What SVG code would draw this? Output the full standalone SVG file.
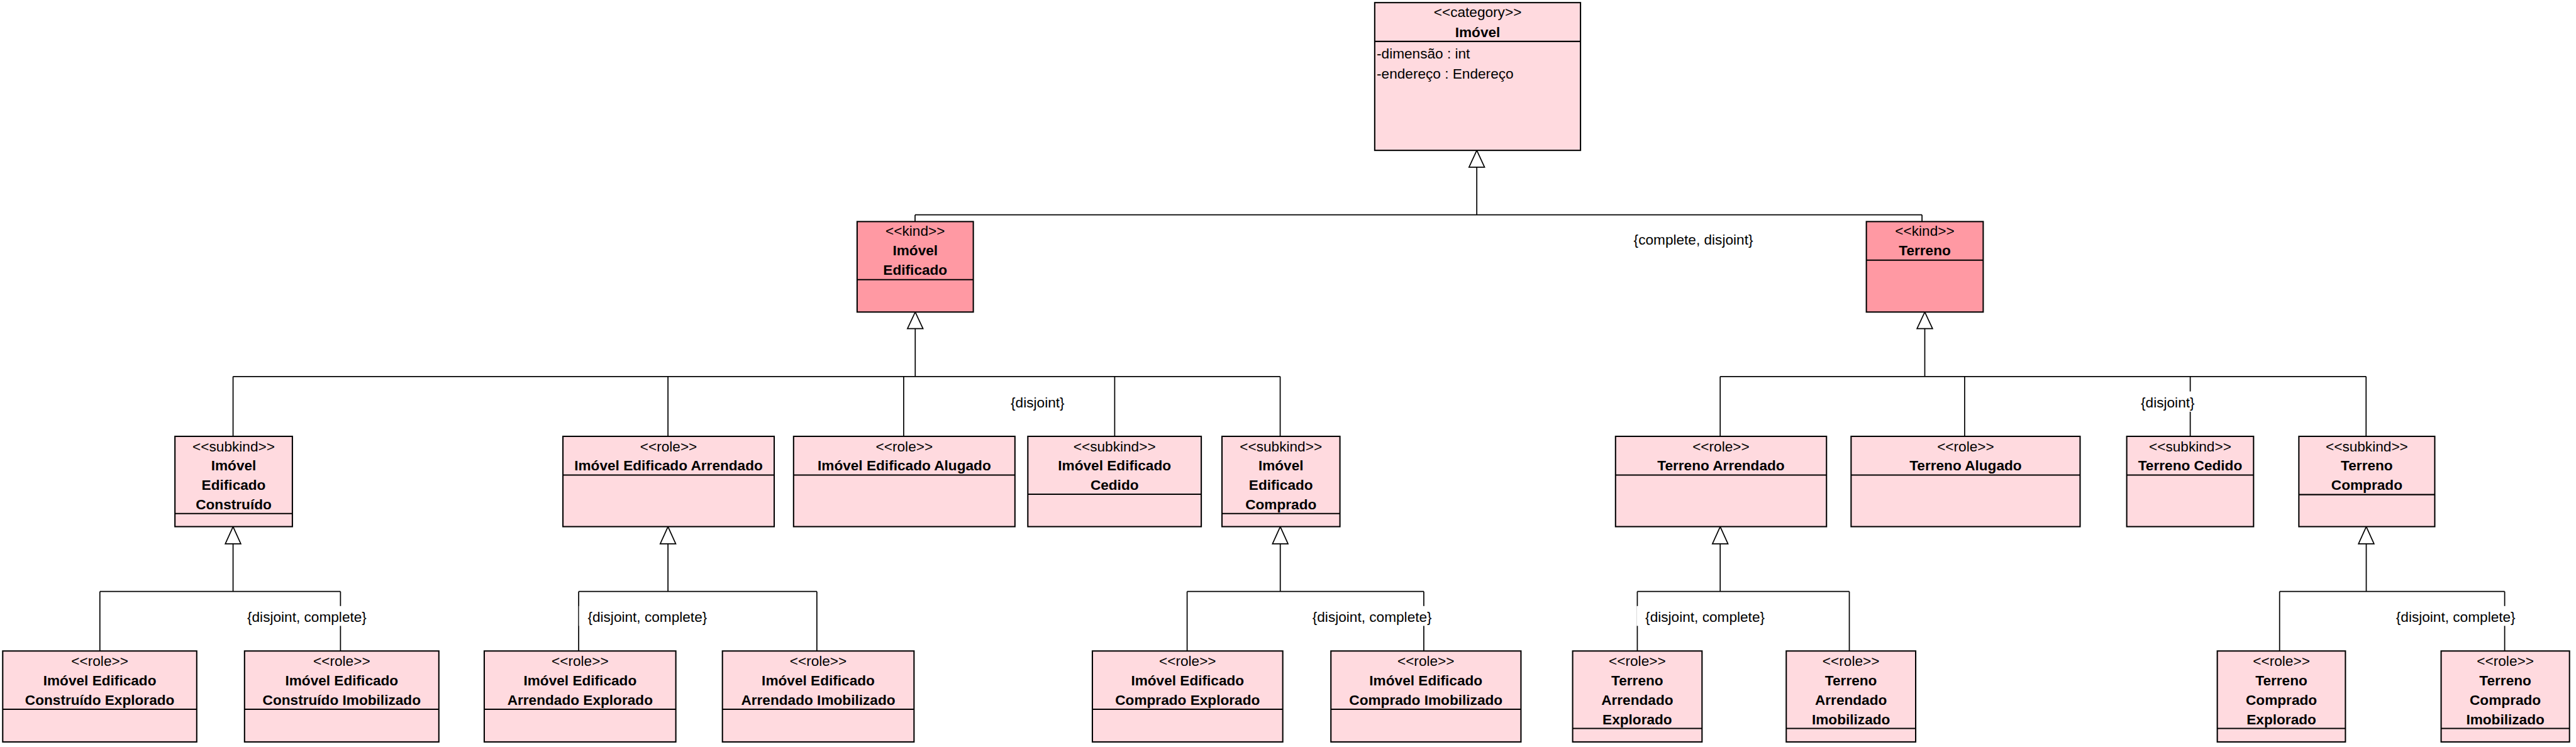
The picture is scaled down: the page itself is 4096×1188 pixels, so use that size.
<svg xmlns="http://www.w3.org/2000/svg" width="4096" height="1188" viewBox="0 0 4096 1188">
<style>
.bx{fill:#FFDADF;stroke:#000;stroke-width:3}
.kd{fill:#FF99A3;stroke:#000;stroke-width:3}
.dv{stroke:#000;stroke-width:3}
.t{font-family:"Liberation Sans",Arial,Helvetica,sans-serif;font-size:33px;text-anchor:middle;fill:#000}
.b{font-weight:bold}
.a{text-anchor:start}
.cn{stroke:#000;stroke-width:2.5;fill:none}
.tr{fill:#fff;stroke:#000;stroke-width:2.5}
.bg{fill:#fff}
</style>
<rect width="4096" height="1188" fill="#fff"/>
<g transform="scale(0.686)">
<g id="connectors">
<path class="cn" d="M3423,387.6V498M2121,498H4455M2121,498V513.7M4455,498V513.7"/>
<polygon class="tr" points="3423,348.6 3405,387.6 3441,387.6"/>
<path class="cn" d="M2121.4,762V872.9M540.2,872.9H2967.3M540.2,872.9V1011.6M1548.3,872.9V1011.6M2094.6,872.9V1011.6M2583.7,872.9V1011.6M2967.3,872.9V1011.6"/>
<polygon class="tr" points="2121.4,723.4 2103.4,762 2139.4,762"/>
<path class="cn" d="M4461.4,762V872.9M3987.2,872.9H5484.3M3987.2,872.9V1011.6M4553.8,872.9V1011.6M5076.7,872.9V1011.6M5484.3,872.9V1011.6"/>
<polygon class="tr" points="4461.4,723.4 4443.4,762 4479.4,762"/>
<path class="cn" d="M540.2,1260.7V1371.3M231.5,1371.3H789.2M231.5,1371.3V1509.2M789.2,1371.3V1509.2"/>
<polygon class="tr" points="540.2,1220.9 522.2,1260.7 558.2,1260.7"/>
<path class="cn" d="M1548.3,1260.7V1371.3M1341.3,1371.3H1893.4M1341.3,1371.3V1509.2M1893.4,1371.3V1509.2"/>
<polygon class="tr" points="1548.3,1220.9 1530.3,1260.7 1566.3,1260.7"/>
<path class="cn" d="M2967.5,1260.7V1371.3M2751.6,1371.3H3300.2M2751.6,1371.3V1509.2M3300.2,1371.3V1509.2"/>
<polygon class="tr" points="2967.5,1220.9 2949.5,1260.7 2985.5,1260.7"/>
<path class="cn" d="M3987.2,1260.7V1371.3M3795.1,1371.3H4286.5M3795.1,1371.3V1509.2M4286.5,1371.3V1509.2"/>
<polygon class="tr" points="3987.2,1220.9 3969.2,1260.7 4005.2,1260.7"/>
<path class="cn" d="M5484.7,1260.7V1371.3M5283.8,1371.3H5805.5M5283.8,1371.3V1509.2M5805.5,1371.3V1509.2"/>
<polygon class="tr" points="5484.7,1220.9 5466.7,1260.7 5502.7,1260.7"/>
</g>
<g id="labels">
<text class="t" x="3925" y="567">{complete, disjoint}</text>
<text class="t" x="2405" y="945">{disjoint}</text>
<rect class="bg" x="4942" y="907.5" width="165" height="47"/>
<text class="t" x="5024.5" y="944.3">{disjoint}</text>
<rect class="bg" x="552.8" y="1405" width="317" height="46"/>
<text class="t" x="711.3" y="1442">{disjoint, complete}</text>
<rect class="bg" x="1342" y="1405" width="317" height="46"/>
<text class="t" x="1500.5" y="1442">{disjoint, complete}</text>
<rect class="bg" x="3021.8" y="1405" width="317" height="46"/>
<text class="t" x="3180.3" y="1442">{disjoint, complete}</text>
<rect class="bg" x="3793.5" y="1405" width="317" height="46"/>
<text class="t" x="3952" y="1442">{disjoint, complete}</text>
<rect class="bg" x="5533.5" y="1405" width="317" height="46"/>
<text class="t" x="5692" y="1442">{disjoint, complete}</text>
</g>
<g id="imovel">
<rect class="bx" x="3186.4" y="6.1" width="477" height="342.5"/>
<line class="dv" x1="3186.4" y1="96" x2="3663.4" y2="96"/>
<text class="t" x="3425" y="39.5">&lt;&lt;category&gt;&gt;</text>
<text class="t b" x="3425" y="86">Imóvel</text>
<text class="t a" x="3191" y="136">-dimensão : int</text>
<text class="t a" x="3191" y="181.5">-endereço : Endereço</text>
</g>
<g id="imovel_edificado">
<rect class="kd" x="1986.7" y="513.7" width="269.3" height="209.7"/>
<line class="dv" x1="1986.7" y1="648.4" x2="2256" y2="648.4"/>
<text class="t" x="2121.4" y="546.5">&lt;&lt;kind&gt;&gt;</text>
<text class="t b" x="2121.4" y="592.5">Imóvel</text>
<text class="t b" x="2121.4" y="637.5">Edificado</text>
</g>
<g id="terreno">
<rect class="kd" x="4326" y="513.7" width="270.8" height="209.7"/>
<line class="dv" x1="4326" y1="603" x2="4596.8" y2="603"/>
<text class="t" x="4461.4" y="546.5">&lt;&lt;kind&gt;&gt;</text>
<text class="t b" x="4461.4" y="592">Terreno</text>
</g>
<g id="imovel_edificado_construido">
<rect class="bx" x="405.5" y="1011.6" width="272.2" height="209.3"/>
<line class="dv" x1="405.5" y1="1190.7" x2="677.7" y2="1190.7"/>
<text class="t" x="541.6" y="1046">&lt;&lt;subkind&gt;&gt;</text>
<text class="t b" x="541.6" y="1091">Imóvel</text>
<text class="t b" x="541.6" y="1136">Edificado</text>
<text class="t b" x="541.6" y="1181">Construído</text>
</g>
<g id="imovel_edificado_arrendado">
<rect class="bx" x="1304.8" y="1011.6" width="489.7" height="209.3"/>
<line class="dv" x1="1304.8" y1="1101.2" x2="1794.5" y2="1101.2"/>
<text class="t" x="1549.6" y="1046">&lt;&lt;role&gt;&gt;</text>
<text class="t b" x="1549.6" y="1091">Imóvel Edificado Arrendado</text>
</g>
<g id="imovel_edificado_alugado">
<rect class="bx" x="1839.4" y="1011.6" width="513.1" height="209.3"/>
<line class="dv" x1="1839.4" y1="1101.2" x2="2352.5" y2="1101.2"/>
<text class="t" x="2096" y="1046">&lt;&lt;role&gt;&gt;</text>
<text class="t b" x="2096" y="1091">Imóvel Edificado Alugado</text>
</g>
<g id="imovel_edificado_cedido">
<rect class="bx" x="2382.4" y="1011.6" width="402" height="209.3"/>
<line class="dv" x1="2382.4" y1="1145.8" x2="2784.4" y2="1145.8"/>
<text class="t" x="2583.4" y="1046">&lt;&lt;subkind&gt;&gt;</text>
<text class="t b" x="2583.4" y="1091">Imóvel Edificado</text>
<text class="t b" x="2583.4" y="1136">Cedido</text>
</g>
<g id="imovel_edificado_comprado">
<rect class="bx" x="2832.4" y="1011.6" width="273.4" height="209.3"/>
<line class="dv" x1="2832.4" y1="1190.7" x2="3105.8" y2="1190.7"/>
<text class="t" x="2969" y="1046">&lt;&lt;subkind&gt;&gt;</text>
<text class="t b" x="2969" y="1091">Imóvel</text>
<text class="t b" x="2969" y="1136">Edificado</text>
<text class="t b" x="2969" y="1181">Comprado</text>
</g>
<g id="terreno_arrendado">
<rect class="bx" x="3744.6" y="1011.6" width="489" height="209.3"/>
<line class="dv" x1="3744.6" y1="1101.2" x2="4233.6" y2="1101.2"/>
<text class="t" x="3989" y="1046">&lt;&lt;role&gt;&gt;</text>
<text class="t b" x="3989" y="1091">Terreno Arrendado</text>
</g>
<g id="terreno_alugado">
<rect class="bx" x="4290.6" y="1011.6" width="530.8" height="209.3"/>
<line class="dv" x1="4290.6" y1="1101.2" x2="4821.4" y2="1101.2"/>
<text class="t" x="4556" y="1046">&lt;&lt;role&gt;&gt;</text>
<text class="t b" x="4556" y="1091">Terreno Alugado</text>
</g>
<g id="terreno_cedido">
<rect class="bx" x="4929.5" y="1011.6" width="294" height="209.3"/>
<line class="dv" x1="4929.5" y1="1101.2" x2="5223.5" y2="1101.2"/>
<text class="t" x="5076.5" y="1046">&lt;&lt;subkind&gt;&gt;</text>
<text class="t b" x="5076.5" y="1091">Terreno Cedido</text>
</g>
<g id="terreno_comprado">
<rect class="bx" x="5328.5" y="1011.6" width="315" height="209.3"/>
<line class="dv" x1="5328.5" y1="1146.7" x2="5643.5" y2="1146.7"/>
<text class="t" x="5486" y="1046">&lt;&lt;subkind&gt;&gt;</text>
<text class="t b" x="5486" y="1091">Terreno</text>
<text class="t b" x="5486" y="1136">Comprado</text>
</g>
<g id="imovel_edificado_construido_explorado">
<rect class="bx" x="6.3" y="1509.2" width="449.7" height="210.8"/>
<line class="dv" x1="6.3" y1="1644.3" x2="456" y2="1644.3"/>
<text class="t" x="231.2" y="1544">&lt;&lt;role&gt;&gt;</text>
<text class="t b" x="231.2" y="1589.5">Imóvel Edificado</text>
<text class="t b" x="231.2" y="1634.5">Construído Explorado</text>
</g>
<g id="imovel_edificado_construido_imobilizado">
<rect class="bx" x="566.8" y="1509.2" width="450.4" height="210.8"/>
<line class="dv" x1="566.8" y1="1644.3" x2="1017.2" y2="1644.3"/>
<text class="t" x="792" y="1544">&lt;&lt;role&gt;&gt;</text>
<text class="t b" x="792" y="1589.5">Imóvel Edificado</text>
<text class="t b" x="792" y="1634.5">Construído Imobilizado</text>
</g>
<g id="imovel_edificado_arrendado_explorado">
<rect class="bx" x="1122.4" y="1509.2" width="444.1" height="210.8"/>
<line class="dv" x1="1122.4" y1="1644.3" x2="1566.5" y2="1644.3"/>
<text class="t" x="1344.5" y="1544">&lt;&lt;role&gt;&gt;</text>
<text class="t b" x="1344.5" y="1589.5">Imóvel Edificado</text>
<text class="t b" x="1344.5" y="1634.5">Arrendado Explorado</text>
</g>
<g id="imovel_edificado_arrendado_imobilizado">
<rect class="bx" x="1674.5" y="1509.2" width="444.1" height="210.8"/>
<line class="dv" x1="1674.5" y1="1644.3" x2="2118.6" y2="1644.3"/>
<text class="t" x="1896.5" y="1544">&lt;&lt;role&gt;&gt;</text>
<text class="t b" x="1896.5" y="1589.5">Imóvel Edificado</text>
<text class="t b" x="1896.5" y="1634.5">Arrendado Imobilizado</text>
</g>
<g id="imovel_edificado_comprado_explorado">
<rect class="bx" x="2532" y="1509.2" width="441.3" height="210.8"/>
<line class="dv" x1="2532" y1="1644.3" x2="2973.3" y2="1644.3"/>
<text class="t" x="2752.6" y="1544">&lt;&lt;role&gt;&gt;</text>
<text class="t b" x="2752.6" y="1589.5">Imóvel Edificado</text>
<text class="t b" x="2752.6" y="1634.5">Comprado Explorado</text>
</g>
<g id="imovel_edificado_comprado_imobilizado">
<rect class="bx" x="3084.9" y="1509.2" width="440.5" height="210.8"/>
<line class="dv" x1="3084.9" y1="1644.3" x2="3525.4" y2="1644.3"/>
<text class="t" x="3305" y="1544">&lt;&lt;role&gt;&gt;</text>
<text class="t b" x="3305" y="1589.5">Imóvel Edificado</text>
<text class="t b" x="3305" y="1634.5">Comprado Imobilizado</text>
</g>
<g id="terreno_arrendado_explorado">
<rect class="bx" x="3645.2" y="1509.2" width="299.9" height="210.8"/>
<line class="dv" x1="3645.2" y1="1688.8" x2="3945.1" y2="1688.8"/>
<text class="t" x="3795" y="1544">&lt;&lt;role&gt;&gt;</text>
<text class="t b" x="3795" y="1589.5">Terreno</text>
<text class="t b" x="3795" y="1634.5">Arrendado</text>
<text class="t b" x="3795" y="1679.5">Explorado</text>
</g>
<g id="terreno_arrendado_imobilizado">
<rect class="bx" x="4140.3" y="1509.2" width="300" height="210.8"/>
<line class="dv" x1="4140.3" y1="1688.8" x2="4440.3" y2="1688.8"/>
<text class="t" x="4290.3" y="1544">&lt;&lt;role&gt;&gt;</text>
<text class="t b" x="4290.3" y="1589.5">Terreno</text>
<text class="t b" x="4290.3" y="1634.5">Arrendado</text>
<text class="t b" x="4290.3" y="1679.5">Imobilizado</text>
</g>
<g id="terreno_comprado_explorado">
<rect class="bx" x="5139.4" y="1509.2" width="297" height="210.8"/>
<line class="dv" x1="5139.4" y1="1688.8" x2="5436.4" y2="1688.8"/>
<text class="t" x="5288" y="1544">&lt;&lt;role&gt;&gt;</text>
<text class="t b" x="5288" y="1589.5">Terreno</text>
<text class="t b" x="5288" y="1634.5">Comprado</text>
<text class="t b" x="5288" y="1679.5">Explorado</text>
</g>
<g id="terreno_comprado_imobilizado">
<rect class="bx" x="5658.2" y="1509.2" width="297.6" height="210.8"/>
<line class="dv" x1="5658.2" y1="1688.8" x2="5955.8" y2="1688.8"/>
<text class="t" x="5807" y="1544">&lt;&lt;role&gt;&gt;</text>
<text class="t b" x="5807" y="1589.5">Terreno</text>
<text class="t b" x="5807" y="1634.5">Comprado</text>
<text class="t b" x="5807" y="1679.5">Imobilizado</text>
</g>
</g>
</svg>
